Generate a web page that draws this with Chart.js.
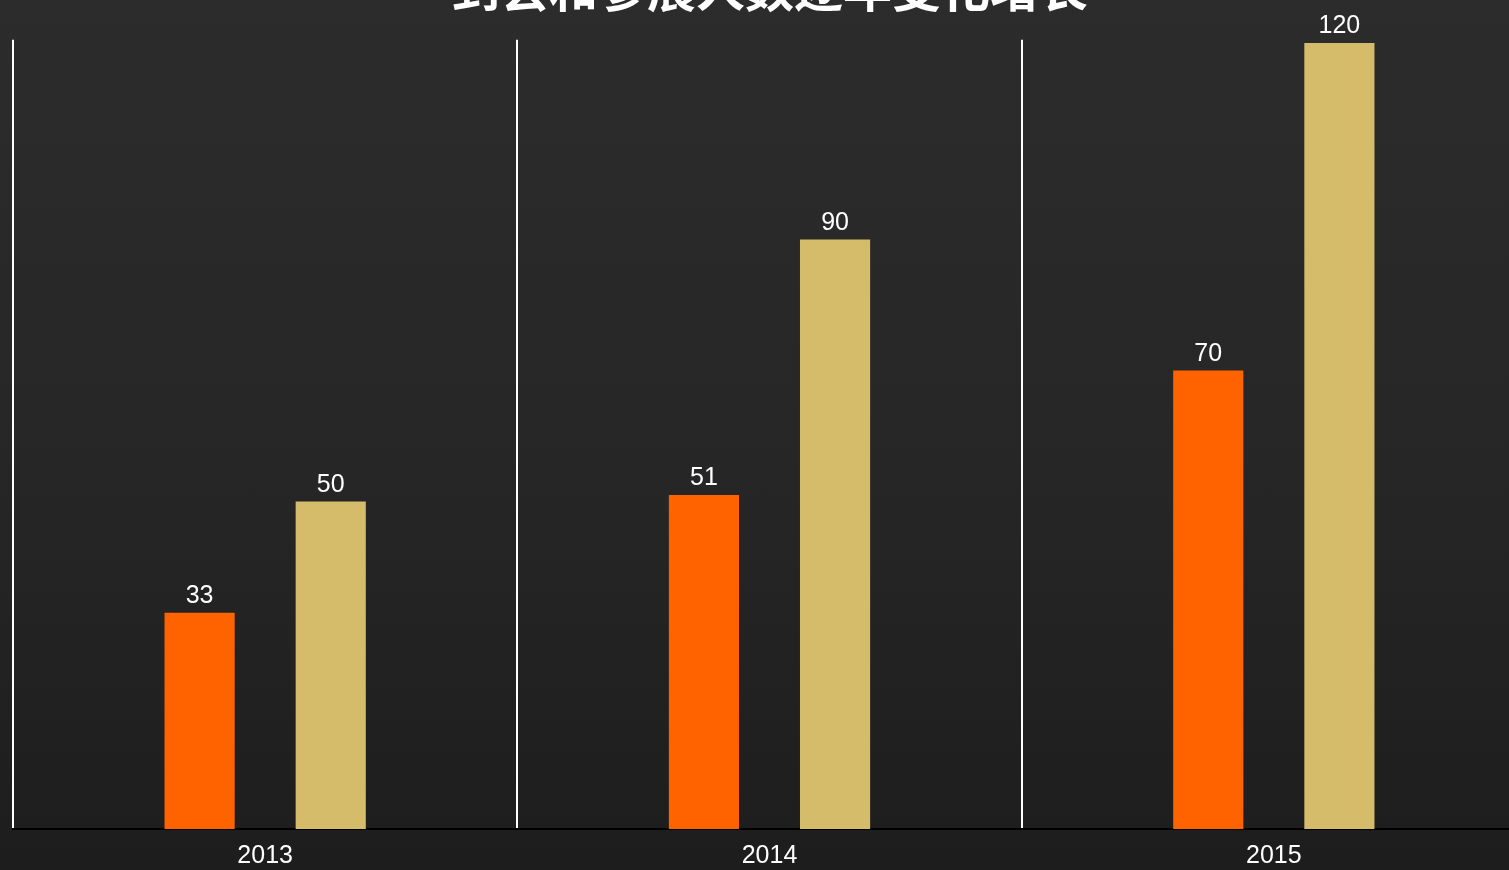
<!DOCTYPE html>
<html>
<head>
<meta charset="utf-8">
<script src="https://cdn.jsdelivr.net/npm/chart.js@4/dist/chart.umd.min.js"></script>
<style>
  html, body {
    margin: 0;
    width: 1509px;
    height: 870px;
    overflow: hidden;
    background: linear-gradient(to bottom, #2c2c2c 0%, #262626 55%, #1d1d1d 100%);
  }
  #wrap { position: absolute; left: 0; top: -41px; }
</style>
</head>
<body>
<div id="wrap"><canvas id="growthChart" width="1526" height="928"></canvas></div>
<script>
// Chart data
const titleText = "到会和参展人数逐年变化增长";
const years = ["2013", "2014", "2015"];
const seriesA = [33, 51, 70];
const seriesB = [50, 90, 120];

// Draw value above each bar
const valueLabels = {
    id: 'valueLabels',
    afterDatasetsDraw(chart) {
        const ctx = chart.ctx;
        ctx.save();
        ctx.fillStyle = '#ffffff';
        ctx.font = '25px "Liberation Sans", Arial, sans-serif';
        ctx.textAlign = 'center';
        ctx.textBaseline = 'alphabetic';
        chart.data.datasets.forEach((ds, i) => {
            chart.getDatasetMeta(i).data.forEach((bar, j) => {
                ctx.fillText(String(ds.data[j]), bar.x, bar.y - 10);
            });
        });
        ctx.restore();
    }
};

const ctx = document.getElementById("growthChart").getContext("2d");
const growthChart = new Chart(ctx, {
    type: "bar",
    data: {
        labels: years,
        datasets: [
            {
                label: "A",
                data: seriesA,
                backgroundColor: "#ff6300",
                categoryPercentage: 0.52,
                barPercentage: 0.535
            },
            {
                label: "B",
                data: seriesB,
                backgroundColor: "#d4bc6b",
                categoryPercentage: 0.52,
                barPercentage: 0.535
            }
        ]
    },
    options: {
        responsive: false,
        animation: false,
        layout: { padding: { left: 13, right: 0, top: 0, bottom: 4 } },
        plugins: {
            legend: { display: false },
            tooltip: { enabled: false },
            title: {
                display: true,
                text: titleText,
                color: '#ffffff',
                font: { family: '"Noto Sans CJK SC"', size: 49, weight: 'bold' },
                padding: { top: 0, bottom: 22 }
            }
        },
        scales: {
            x: {
                grid: {
                    color: '#ffffff',
                    lineWidth: 2,
                    drawTicks: false
                },
                border: { color: '#000000', width: 2 },
                ticks: {
                    color: '#ffffff',
                    padding: 12,
                    font: { family: '"Liberation Sans", Arial, sans-serif', size: 25 }
                }
            },
            y: {
                display: false,
                min: 0,
                max: 120.5
            }
        }
    },
    plugins: [valueLabels]
});
</script>
</body>
</html>
